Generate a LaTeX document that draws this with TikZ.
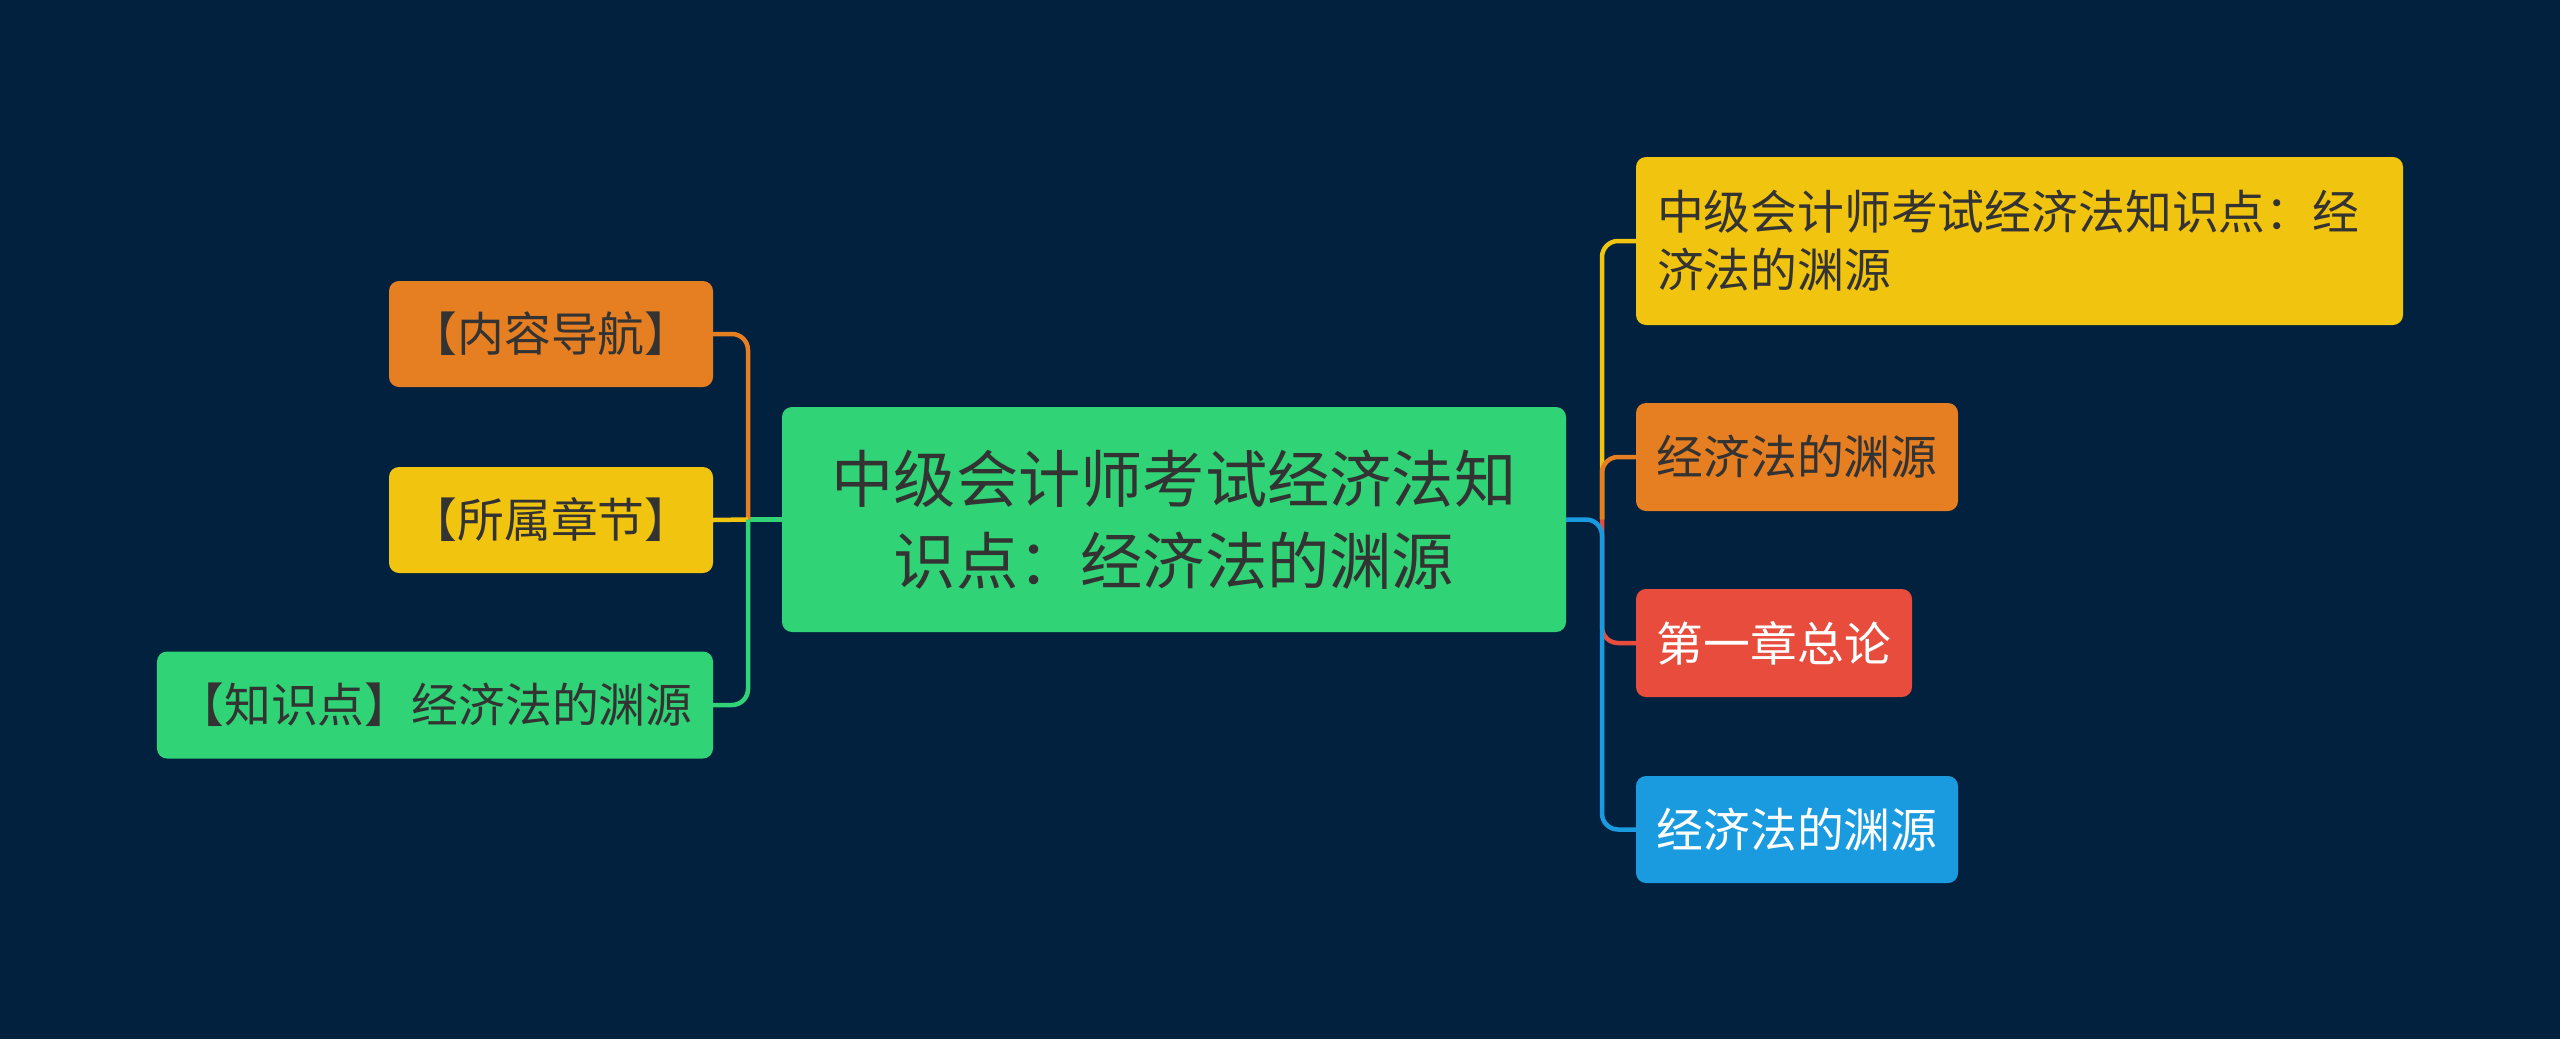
\documentclass[tikz,border=0pt]{standalone}
\usepackage{fontspec}
\newfontfamily\cjk{Noto Sans CJK SC}
\definecolor{bgc}{HTML}{01213F}
\definecolor{cgreen}{HTML}{30D375}
\definecolor{corange}{HTML}{E67E22}
\definecolor{cyellow}{HTML}{F1C40F}
\definecolor{cred}{HTML}{E74C3C}
\definecolor{cblue}{HTML}{1A9BE0}
\definecolor{ctext}{HTML}{333333}
\begin{document}
\begin{tikzpicture}[x=1bp,y=-1bp,
  box/.style={rounded corners=10bp, inner sep=0pt, align=center, font=\cjk\fontsize{47}{58}\selectfont, text=ctext},
  link/.style={line width=4.5bp, rounded corners=16bp}
]
\fill[bgc] (0,0) rectangle (2560,1039);
\useasboundingbox (0,0) rectangle (2560,1039);
% nodes
\node[box, fill=cgreen, minimum width=784bp, minimum height=225bp, font=\cjk\fontsize{62.5}{82}\selectfont] (root) at (1174,519.5) {中级会计师考试经济法知\\识点：经济法的渊源};
\node[box, fill=corange, minimum width=324bp, minimum height=106bp] (nav) at (551,334) {【内容导航】};
\node[box, fill=cyellow, minimum width=324bp, minimum height=106bp] (chap) at (551,520) {【所属章节】};
\node[box, fill=cgreen, minimum width=556bp, minimum height=107bp] (kp) at (435,705) {【知识点】经济法的渊源};
\node[box, fill=cyellow, minimum width=767bp, minimum height=168bp, text width=725bp, align=left] (r1) at (2019.5,241) {中级会计师考试经济法知识点：经\\济法的渊源};
\node[box, fill=corange, minimum width=322bp, minimum height=108bp] (r2) at (1797,457) {经济法的渊源};
\node[box, fill=cred, minimum width=276bp, minimum height=108bp, text=white] (r3) at (1774,643) {第一章总论};
\node[box, fill=cblue, minimum width=322bp, minimum height=107bp, text=white] (r4) at (1797,829.5) {经济法的渊源};
\coordinate (lj) at (748,519.5);
\coordinate (rj) at (1602,519.5);
% connectors
\draw[link, cgreen] (root.west) -- (lj);
\draw[link, corange] (lj) |- (nav.east);
\draw[link, cyellow] (lj) -- (chap.east);
\draw[link, cgreen] (lj) |- (kp.east);
\draw[link, cyellow] (rj) |- (r1.west);
\draw[link, corange] (rj) |- (r2.west);
\draw[link, cred] (rj) |- (r3.west);
\draw[link, cblue] (root.east) -- (rj) |- (r4.west);
\end{tikzpicture}
\end{document}
